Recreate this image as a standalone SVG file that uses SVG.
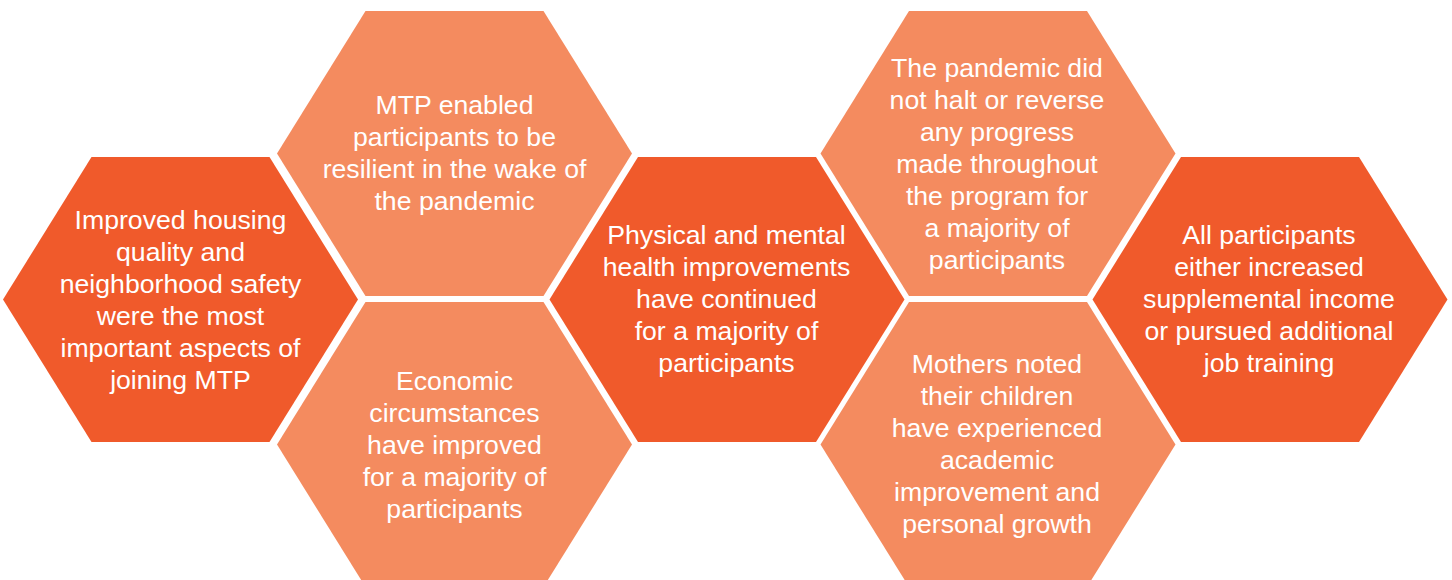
<svg xmlns="http://www.w3.org/2000/svg" xmlns:xlink="http://www.w3.org/1999/xlink" width="1452" height="580" viewBox="0 0 1452 580">
<style>
.dark{fill:#F05A2B}
.light{fill:#F48B5F}
text{font-family:"Liberation Sans",Arial,sans-serif;font-size:26.67px;fill:#FFFFFF;text-anchor:middle}
</style>
<defs>
<polygon id="hex" points="-177.5,0 -89,-142.5 89,-142.5 177.5,0 89,142.5 -89,142.5"/>
</defs>
<rect width="1452" height="580" fill="#FFFFFF"/>
<g id="connectors"/>
<g id="n1">
<use xlink:href="#hex" href="#hex" class="dark" transform="translate(180.5,299.5)"/>
<text x="180.5" y="229">Improved housing</text>
<text x="180.5" y="261">quality and</text>
<text x="180.5" y="293">neighborhood safety</text>
<text x="180.5" y="325">were the most</text>
<text x="180.5" y="357">important aspects of</text>
<text x="180.5" y="389">joining MTP</text>
</g>
<g id="n2">
<use xlink:href="#hex" href="#hex" class="light" transform="translate(454.5,153.5)"/>
<text x="454.5" y="114">MTP enabled</text>
<text x="454.5" y="146">participants to be</text>
<text x="454.5" y="178">resilient in the wake of</text>
<text x="454.5" y="210">the pandemic</text>
</g>
<g id="n3">
<use xlink:href="#hex" href="#hex" class="light" transform="translate(454.5,444.5)"/>
<text x="454.5" y="390">Economic</text>
<text x="454.5" y="422">circumstances</text>
<text x="454.5" y="454">have improved</text>
<text x="454.5" y="486">for a majority of</text>
<text x="454.5" y="518">participants</text>
</g>
<g id="n4">
<use xlink:href="#hex" href="#hex" class="dark" transform="translate(727,299.5)"/>
<text x="726.5" y="244">Physical and mental</text>
<text x="726.5" y="276">health improvements</text>
<text x="726.5" y="308">have continued</text>
<text x="726.5" y="340">for a majority of</text>
<text x="726.5" y="372">participants</text>
</g>
<g id="n5">
<use xlink:href="#hex" href="#hex" class="light" transform="translate(998,153.5)"/>
<text x="997" y="77">The pandemic did</text>
<text x="997" y="109">not halt or reverse</text>
<text x="997" y="141">any progress</text>
<text x="997" y="173">made throughout</text>
<text x="997" y="205">the program for</text>
<text x="997" y="237">a majority of</text>
<text x="997" y="269">participants</text>
</g>
<g id="n6">
<use xlink:href="#hex" href="#hex" class="dark" transform="translate(1270,299.5)"/>
<text x="1269" y="244">All participants</text>
<text x="1269" y="276">either increased</text>
<text x="1269" y="308">supplemental income</text>
<text x="1269" y="340">or pursued additional</text>
<text x="1269" y="372">job training</text>
</g>
<g id="n7">
<use xlink:href="#hex" href="#hex" class="light" transform="translate(998,444.5)"/>
<text x="997" y="373">Mothers noted</text>
<text x="997" y="405">their children</text>
<text x="997" y="437">have experienced</text>
<text x="997" y="469">academic</text>
<text x="997" y="501">improvement and</text>
<text x="997" y="533">personal growth</text>
</g>
</svg>
